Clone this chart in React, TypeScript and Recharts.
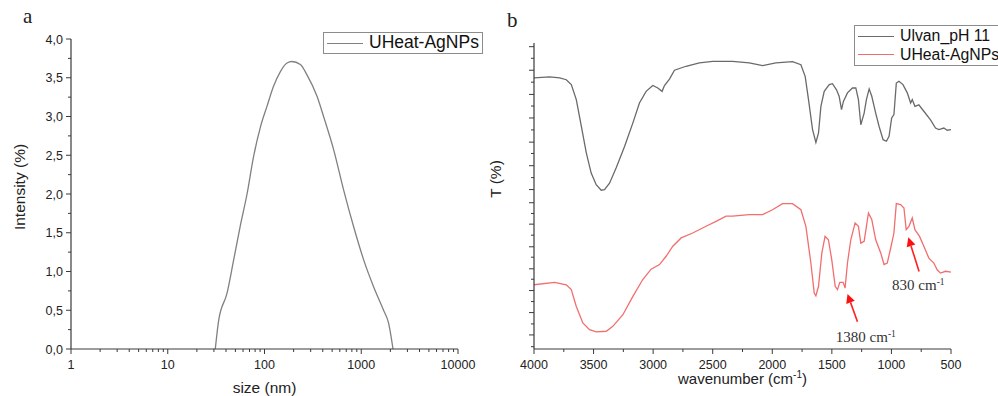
import { LineChart, Line, XAxis, YAxis, Legend, ReferenceLine, ReferenceDot } from 'recharts';

const sans = '"Liberation Sans", Arial, sans-serif';
const serif = '"Liberation Serif", "DejaVu Serif", serif';
const axisColor = '#3a3a3a';
const dlsColor = '#808080';
const ulvanColor = '#6a6a6a';
const agnpColor = '#f26e6e';

// (a) DLS size distribution
const dlsSize = [31, 33.6, 41, 48, 56, 66, 77, 91, 106, 124, 146, 171, 192, 235, 274, 349, 408, 519, 658, 833, 1059, 1344, 1700, 1920, 2130];
const dlsIntensity = [0, 0.37, 0.72, 1.15, 1.58, 2.0, 2.48, 2.87, 3.13, 3.39, 3.58, 3.69, 3.71, 3.67, 3.54, 3.26, 3.0, 2.57, 2.05, 1.58, 1.15, 0.8, 0.5, 0.33, 0];
const sizeMajorTicks = [1, 10, 100, 1000, 10000];
const sizeMinorTicks = [2, 3, 4, 5, 6, 7, 8, 9, 20, 30, 40, 50, 60, 70, 80, 90, 200, 300, 400, 500, 600, 700, 800, 900, 2000, 3000, 4000, 5000, 6000, 7000, 8000, 9000];
const intensityMajorTicks = [0, 0.5, 1, 1.5, 2, 2.5, 3, 3.5, 4];
const intensityMinorTicks = [0.25, 0.75, 1.25, 1.75, 2.25, 2.75, 3.25, 3.75];

// (b) FTIR spectra
const ulvanWn = [4000, 3869, 3785, 3729, 3687, 3645, 3603, 3561, 3520, 3478, 3436, 3408, 3366, 3310, 3240, 3170, 3115, 3059, 3003, 2961, 2925, 2905, 2863, 2821, 2724, 2612, 2500, 2333, 2193, 2081, 1970, 1830, 1760, 1724, 1696, 1662, 1634, 1612, 1592, 1564, 1522, 1495, 1461, 1439, 1419, 1403, 1369, 1327, 1299, 1277, 1257, 1229, 1210, 1187, 1165, 1132, 1104, 1070, 1042, 1020, 998, 979, 959, 937, 903, 867, 839, 825, 803, 770, 728, 672, 630, 602, 560, 532, 500];
const ulvanT = [88.6, 88.9, 88.6, 88.0, 86.4, 81.5, 72.8, 64.1, 57.5, 53.7, 51.9, 52.1, 54.2, 59.2, 66.2, 73.9, 80.4, 84.2, 86.1, 85.3, 84.2, 86.1, 88.2, 91.1, 92.4, 93.5, 94.0, 94.0, 93.5, 92.6, 93.5, 93.9, 92.9, 89.1, 81.5, 71.7, 67.5, 70.6, 79.3, 84.2, 86.4, 86.7, 84.7, 82.6, 78.2, 80.9, 83.7, 85.3, 85.3, 81.5, 73.3, 77.1, 81.5, 85.0, 82.6, 77.1, 72.8, 68.4, 67.9, 69.5, 75.5, 76.6, 86.9, 87.5, 86.4, 83.7, 80.4, 81.5, 79.3, 79.8, 77.7, 74.9, 72.2, 71.7, 72.2, 71.5, 71.7];
const agnpWn = [4000, 3827, 3729, 3687, 3645, 3590, 3534, 3478, 3394, 3338, 3254, 3170, 3087, 3017, 2947, 2891, 2835, 2765, 2668, 2556, 2472, 2388, 2333, 2193, 2081, 1998, 1914, 1830, 1760, 1718, 1676, 1648, 1634, 1612, 1584, 1557, 1529, 1501, 1472, 1453, 1433, 1405, 1389, 1369, 1341, 1305, 1277, 1257, 1229, 1193, 1165, 1132, 1090, 1062, 1035, 1006, 979, 959, 923, 895, 876, 853, 825, 803, 764, 728, 686, 644, 616, 588, 546, 500];
const agnpT = [21.0, 21.8, 21.0, 19.4, 13.9, 8.5, 6.3, 5.6, 5.8, 7.4, 11.2, 17.2, 22.7, 26.1, 27.6, 30.3, 33.6, 36.3, 37.9, 40.1, 41.7, 43.4, 43.4, 43.9, 43.9, 45.5, 47.5, 47.5, 45.5, 40.1, 28.1, 18.3, 17.4, 20.5, 31.4, 36.8, 35.7, 29.2, 20.5, 19.4, 21.8, 21.8, 19.9, 28.1, 35.7, 41.2, 40.1, 34.6, 35.2, 44.4, 42.3, 35.7, 31.4, 27.6, 28.1, 33.0, 37.9, 47.5, 47.2, 46.1, 39.0, 40.1, 42.8, 39.0, 36.8, 33.6, 29.7, 28.1, 25.9, 24.8, 25.4, 25.1];
const wnMajorTicks = [4000, 3500, 3000, 2500, 2000, 1500, 1000, 500];
const wnMinorTicks = [3750, 3250, 2750, 2250, 1750, 1250, 750];
const tMajorTicks = [98.8, 91.1, 83.2, 75.5, 67.6, 59.9, 52.1, 47.8, 40.8, 33.4, 26.2, 19.1, 11.9, 4.6];
const tMinorTicks = [95.0, 87.2, 79.4, 71.6, 63.9, 56.0, 44.3, 37.2, 30.0, 22.8, 15.5, 8.2, 0.75];
const ftirSeriesOrder = ['Ulvan_pH 11', 'UHeat-AgNPs'];

// marked peaks
const peakNames = ['1380', '830'];
const peakTipWn = [1369, 858];
const peakTipT = [18.0, 36.5];
const peakTailWn = [1285, 768];
const peakTailT = [8.9, 25.3];
const peakTextWn = [1215, 774];
const peakTextT = [4.0, 21.1];

const dlsData = dlsSize.map((s, i) => ({ size: s, intensity: dlsIntensity[i] }));
const ulvanData = ulvanWn.map((w, i) => ({ wn: w, t: ulvanT[i] }));
const agnpData = agnpWn.map((w, i) => ({ wn: w, t: agnpT[i] }));

const fmtComma = (v: number) => v.toFixed(1).replace('.', ',');

function BottomTick(props: any) {
  const { x, y, payload, majors, showLabel } = props;
  const major = majors.includes(payload.value);
  return (
    <g>
      <line x1={x} x2={x} y1={y} y2={y + (major ? 5 : 3)} stroke={axisColor} strokeWidth={1} />
      {major && showLabel && (
        <text x={x} y={y + 19.5} textAnchor="middle" fontSize={12.5} fontFamily={sans} fill="#222">
          {payload.value}
        </text>
      )}
    </g>
  );
}

function LeftTick(props: any) {
  const { x, y, payload, majors, showLabel } = props;
  const major = majors.includes(payload.value);
  return (
    <g>
      <line x1={x - (major ? 5 : 3)} x2={x} y1={y} y2={y} stroke={axisColor} strokeWidth={1} />
      {major && showLabel && (
        <text x={x - 8} y={y} dy="0.36em" textAnchor="end" fontSize={12.5} fontFamily={sans} fill="#222">
          {fmtComma(payload.value)}
        </text>
      )}
    </g>
  );
}

function BoxLegend(props: any) {
  const { payload, width, rowH, fontSize, order } = props;
  const items = [...(payload || [])];
  if (order) items.sort((a: any, b: any) => order.indexOf(a.value) - order.indexOf(b.value));
  return (
    <div style={{ border: '1px solid #8c8c8c', width, padding: '1px 0 1px 3px', background: '#fff', boxSizing: 'border-box', fontFamily: sans, fontSize, color: '#111' }}>
      {items.map((e: any) => (
        <div key={e.value} style={{ display: 'flex', alignItems: 'center', height: rowH }}>
          <span style={{ width: 36, height: 0, borderTop: `1.4px solid ${e.color}`, marginRight: 6, flex: 'none' }} />
          <span style={{ whiteSpace: 'nowrap', lineHeight: 1 }}>{e.value}</span>
        </div>
      ))}
    </div>
  );
}

function Arrow(props: any) {
  const { x1, y1, x2, y2 } = props;
  const ang = Math.atan2(y2 - y1, x2 - x1);
  const len = 9;
  const half = 4.5;
  const bx = x2 - len * Math.cos(ang);
  const by = y2 - len * Math.sin(ang);
  const px = -Math.sin(ang) * half;
  const py = Math.cos(ang) * half;
  return (
    <g>
      <line x1={x1} y1={y1} x2={bx} y2={by} stroke="#ff2020" strokeWidth={1.6} />
      <polygon points={`${x2},${y2} ${bx + px},${by + py} ${bx - px},${by - py}`} fill="#ff1010" />
    </g>
  );
}

function PeakText(props: any) {
  const { cx, cy, text } = props;
  return (
    <text x={cx} y={cy} dy="0.35em" textAnchor="middle" fontFamily={serif} fontSize={15} fill="#333">
      {text} cm<tspan dy={-5} fontSize={9.5}>-1</tspan>
    </text>
  );
}

export default function App() {
  return (
    <div style={{ position: 'absolute', left: 0, top: 0, width: 998, height: 396, overflow: 'hidden', background: '#fff' }}>
      <div style={{ position: 'absolute', left: 23, top: 4, fontFamily: serif, fontSize: 21, color: '#222' }}>a</div>
      <div style={{ position: 'absolute', left: 507, top: 8, fontFamily: serif, fontSize: 21, color: '#222' }}>b</div>

      <div style={{ position: 'absolute', left: 0, top: 0 }}>
        <LineChart width={490} height={396} data={dlsData} margin={{ top: 39, right: 32, left: 10, bottom: 17 }}>
          <XAxis
            dataKey="size"
            type="number"
            scale="log"
            domain={[1, 10000]}
            ticks={[...sizeMajorTicks, ...sizeMinorTicks].sort((a, b) => a - b)}
            interval={0}
            height={30}
            tickSize={0}
            tickMargin={0}
            tickLine={false}
            axisLine={{ stroke: axisColor, strokeWidth: 1.2 }}
            tick={(p: any) => <BottomTick {...p} majors={sizeMajorTicks} showLabel />}
            label={{
              content: (lp: any) => (
                <text x={lp.viewBox.x + lp.viewBox.width / 2} y={393} textAnchor="middle" fontFamily={sans} fontSize={15.5} fill="#222">
                  size (nm)
                </text>
              ),
            }}
          />
          <YAxis
            type="number"
            domain={[0, 4]}
            ticks={[...intensityMajorTicks, ...intensityMinorTicks].sort((a, b) => a - b)}
            interval={0}
            width={61}
            tickSize={0}
            tickMargin={0}
            tickLine={false}
            axisLine={{ stroke: axisColor, strokeWidth: 1.2 }}
            tick={(p: any) => <LeftTick {...p} majors={intensityMajorTicks} showLabel />}
            label={{
              content: () => (
                <text x={20} y={187} transform="rotate(-90 20 187)" dy="0.35em" textAnchor="middle" fontFamily={sans} fontSize={15.5} fill="#222">
                  Intensity (%)
                </text>
              ),
            }}
          />
          <Legend
            layout="vertical"
            align="center"
            verticalAlign="middle"
            wrapperStyle={{ left: 323, top: 32, width: 'auto', height: 'auto' }}
            content={(lp: any) => <BoxLegend {...lp} width={160} rowH={18} fontSize={17.5} />}
          />
          <Line
            type="monotone"
            dataKey="intensity"
            name="UHeat-AgNPs"
            stroke={dlsColor}
            strokeWidth={1.3}
            dot={false}
            isAnimationActive={false}
          />
        </LineChart>
      </div>

      <div style={{ position: 'absolute', left: 480, top: 0 }}>
        <LineChart width={518} height={396} margin={{ top: 43, right: 47, left: 10, bottom: 17 }}>
          <XAxis
            dataKey="wn"
            type="number"
            domain={[500, 4000]}
            reversed
            allowDuplicatedCategory={false}
            ticks={[...wnMajorTicks, ...wnMinorTicks].sort((a, b) => a - b)}
            interval={0}
            height={30}
            tickSize={0}
            tickMargin={0}
            tickLine={false}
            axisLine={{ stroke: axisColor, strokeWidth: 1.2 }}
            tick={(p: any) => <BottomTick {...p} majors={wnMajorTicks} showLabel />}
            label={{
              content: (lp: any) => (
                <text x={lp.viewBox.x + lp.viewBox.width / 2} y={384} textAnchor="middle" fontFamily={sans} fontSize={15} fill="#222">
                  wavenumber (cm<tspan dy={-6} fontSize={10}>-1</tspan>
                  <tspan dy={6}>)</tspan>
                </text>
              ),
            }}
          />
          <YAxis
            type="number"
            domain={[0, 100]}
            ticks={[...tMajorTicks, ...tMinorTicks].sort((a, b) => a - b)}
            interval={0}
            width={44}
            tickSize={0}
            tickMargin={0}
            tickLine={false}
            axisLine={{ stroke: axisColor, strokeWidth: 1.2 }}
            tick={(p: any) => <LeftTick {...p} majors={tMajorTicks} showLabel={false} />}
            label={{
              content: () => (
                <text x={16} y={179} transform="rotate(-90 16 179)" dy="0.35em" textAnchor="middle" fontFamily={sans} fontSize={15.5} fill="#222">
                  T (%)
                </text>
              ),
            }}
          />
          <Legend
            layout="vertical"
            align="center"
            verticalAlign="middle"
            wrapperStyle={{ left: 374, top: 25, width: 'auto', height: 'auto' }}
            content={(lp: any) => <BoxLegend {...lp} width={170} rowH={18.6} fontSize={15.8} order={ftirSeriesOrder} />}
          />
          <Line
            data={ulvanData}
            type="linear"
            dataKey="t"
            name="Ulvan_pH 11"
            stroke={ulvanColor}
            strokeWidth={1.3}
            dot={false}
            isAnimationActive={false}
          />
          <Line
            data={agnpData}
            type="linear"
            dataKey="t"
            name="UHeat-AgNPs"
            stroke={agnpColor}
            strokeWidth={1.3}
            dot={false}
            isAnimationActive={false}
          />
          {peakNames.map((name, i) => (
            <ReferenceLine
              key={`arrow-${name}`}
              segment={[
                { x: peakTailWn[i], y: peakTailT[i] },
                { x: peakTipWn[i], y: peakTipT[i] },
              ]}
              ifOverflow="visible"
              shape={(sp: any) => <Arrow {...sp} />}
            />
          ))}
          {peakNames.map((name, i) => (
            <ReferenceDot
              key={`label-${name}`}
              x={peakTextWn[i]}
              y={peakTextT[i]}
              r={0}
              ifOverflow="visible"
              shape={(dp: any) => <PeakText {...dp} text={name} />}
            />
          ))}
        </LineChart>
      </div>
    </div>
  );
}
